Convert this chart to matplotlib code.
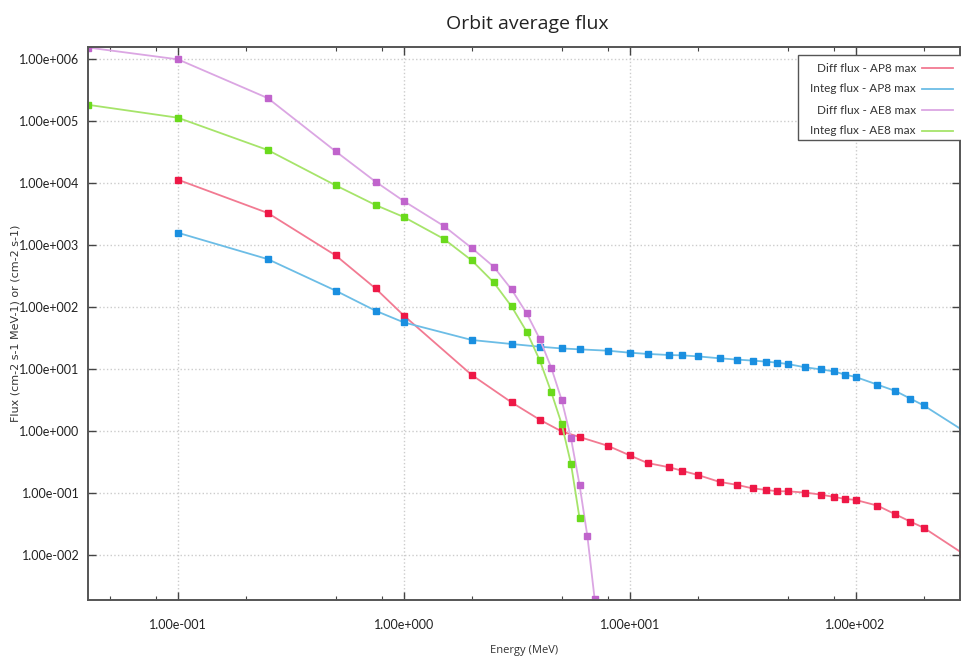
import numpy as np
import matplotlib
matplotlib.use("Agg")
import matplotlib.pyplot as plt
from matplotlib.lines import Line2D
from matplotlib.patches import Rectangle
from matplotlib.ticker import FixedLocator, FuncFormatter, NullFormatter, NullLocator

# proton energies (MeV) and fluxes, AP8 max
e_prot = [0.1, 0.25, 0.5, 0.75, 1.0, 2.0, 3.0, 4.0, 5.0, 6.0, 8.0, 10.0, 12.0, 15.0, 17.0,
          20.0, 25.0, 30.0, 35.0, 40.0, 45.0, 50.0, 60.0, 70.0, 80.0, 90.0, 100.0,
          125.0, 150.0, 175.0, 200.0, 300.0]
diff_ap8 = [1.12e4, 3.25e3, 670, 197, 72, 7.9, 2.86, 1.5, 0.97, 0.79, 0.57, 0.40, 0.30,
            0.256, 0.226, 0.193, 0.149, 0.133, 0.117, 0.111, 0.105, 0.105, 0.100, 0.093,
            0.0853, 0.0791, 0.0762, 0.0617, 0.0447, 0.034, 0.0272, 0.0103]
integ_ap8 = [1.56e3, 585, 181, 86, 55.8, 29.0, 25.0, 22.6, 21.2, 20.5, 19.5, 18.1, 17.3,
             16.6, 16.4, 15.8, 14.7, 14.0, 13.5, 13.0, 12.5, 11.9, 10.5, 9.75, 9.05,
             8.0, 7.35, 5.52, 4.37, 3.28, 2.56, 1.0]

# electron energies (MeV) and fluxes, AE8 max
e_elec = [0.04, 0.1, 0.25, 0.5, 0.75, 1.0, 1.5, 2.0, 2.5, 3.0, 3.5, 4.0, 4.5, 5.0, 5.5,
          6.0, 6.5, 7.0]
diff_ae8 = [1.52e6, 9.8e5, 2.32e5, 3.2e4, 1.04e4, 5.06e3, 2.02e3, 884, 442, 190, 78,
            30.1, 10.3, 3.13, 0.75, 0.133, 0.0197, 0.0019]
e_elec_integ = [0.04, 0.1, 0.25, 0.5, 0.75, 1.0, 1.5, 2.0, 2.5, 3.0, 3.5, 4.0, 4.5, 5.0,
                5.5, 6.0]
integ_ae8 = [1.81e5, 1.12e5, 3.37e4, 9.05e3, 4.37e3, 2.8e3, 1.25e3, 558, 247, 101, 39.5,
             13.6, 4.15, 1.28, 0.29, 0.0385]

# axis ticks
x_major = [0.1, 1.0, 10.0, 100.0]
x_minor = [0.05, 0.08, 0.2, 0.5, 0.8, 2, 5, 8, 20, 50, 80, 200]
y_major = [1e-2, 1e-1, 1e0, 1e1, 1e2, 1e3, 1e4, 1e5, 1e6]

series = [
    ("Diff flux - AP8 max", e_prot, diff_ap8, "#f27a92", "#ee1846"),
    ("Integ flux - AP8 max", e_prot, integ_ap8, "#6cbde6", "#1a8fe0"),
    ("Diff flux - AE8 max", e_elec, diff_ae8, "#dba6e3", "#c064cc"),
    ("Integ flux - AE8 max", e_elec_integ, integ_ae8, "#a6e46a", "#6ada1c"),
]

W, H = 961, 661
fig = plt.figure(figsize=(W / 100, H / 100), dpi=100)
ax = fig.add_axes([88 / W, 1 - 600 / H, 872 / W, 553 / H])

for name, x, y, lc, mc in series:
    ax.plot(x, y, color=lc, lw=1.3, marker="s", markersize=5,
            markerfacecolor=mc, markeredgecolor=mc, label=name)

ax.set_xscale("log")
ax.set_yscale("log")
ax.set_xlim(0.04, 290)
ax.set_ylim(1.85e-3, 1.55e6)


def fmt(v, pos):
    e = int(round(np.log10(v)))
    sign = "+" if e >= 0 else "-"
    return "1.00e%s%03d" % (sign, abs(e))


ax.xaxis.set_major_locator(FixedLocator(x_major))
ax.xaxis.set_minor_locator(FixedLocator(x_minor))
ax.xaxis.set_major_formatter(FuncFormatter(fmt))
ax.xaxis.set_minor_formatter(NullFormatter())
ax.yaxis.set_major_locator(FixedLocator(y_major))
ax.yaxis.set_minor_locator(NullLocator())
ax.yaxis.set_major_formatter(FuncFormatter(fmt))
for lab in ax.get_xticklabels() + ax.get_yticklabels():
    lab.set_fontfamily(["Lato", "DejaVu Sans"])
    lab.set_fontsize(9)

ax.tick_params(which="both", direction="in", top=True, right=True, color="#444444")
ax.tick_params(which="major", length=6, width=1, labelcolor="#222222")
ax.tick_params(which="minor", length=3, width=0.8)
ax.tick_params(axis="x", pad=14)
ax.tick_params(axis="y", pad=6)
ax.grid(True, which="major", linestyle=":", color="#cccccc", lw=1)

for side in ["left", "bottom", "top", "right"]:
    ax.spines[side].set_color("#555555")
    ax.spines[side].set_linewidth(1.4)

fig.text(527 / W, 1 - 24 / H, "Orbit average flux", fontsize=14,
         family=["Open Sans", "DejaVu Sans"], color="#222222", ha="center", va="center")
fig.text(524 / W, 1 - 651 / H, "Energy (MeV)", fontsize=8,
         family=["Open Sans", "DejaVu Sans"], color="#333333", ha="center", va="center")
fig.text(16 / W, 1 - 323 / H, "Flux (cm-2 s-1 MeV-1) or (cm-2 s-1)", fontsize=8,
         family=["DejaVu Sans"], color="#333333", ha="center", va="center", rotation=90)

# legend box drawn in figure pixels, text right aligned before the line sample
fig.patches.append(Rectangle((798 / W, 1 - 140 / H), 170 / W, 85 / H,
                             transform=fig.transFigure, facecolor="white",
                             edgecolor="#555555", lw=1, zorder=5))
row_y = [68, 89, 110, 131]
for (name, x, y, lc, mc), ry in zip(series, row_y):
    fig.text(916 / W, 1 - ry / H, name, fontsize=8.5, family=["Lato", "DejaVu Sans"],
             color="#333333", ha="right", va="center", zorder=6)
    fig.lines.append(Line2D([922 / W, 953 / W], [1 - ry / H, 1 - ry / H], color=lc, lw=1.3,
                            transform=fig.transFigure, zorder=6))

fig.savefig("out.png", dpi=100)
